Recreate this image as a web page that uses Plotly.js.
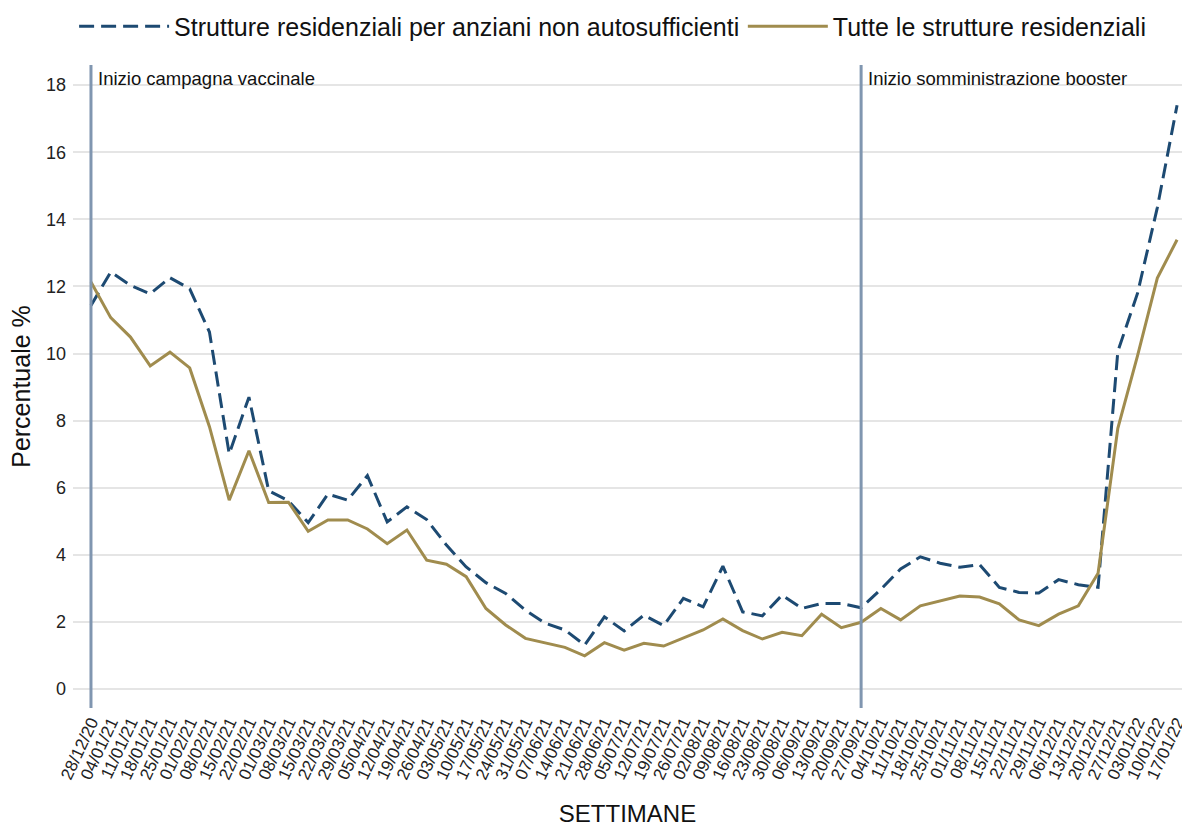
<!DOCTYPE html>
<html>
<head>
<meta charset="utf-8">
<script src="https://cdn.plot.ly/plotly-3.0.1.min.js"></script>
<style>html,body{margin:0;padding:0;background:#fff;}#chart{width:1182px;height:827px;}</style>
</head>
<body>
<div id="chart"></div>
<script>
const weeks = ["28/12/20","04/01/21","11/01/21","18/01/21","25/01/21","01/02/21","08/02/21","15/02/21","22/02/21","01/03/21","08/03/21","15/03/21","22/03/21","29/03/21","05/04/21","12/04/21","19/04/21","26/04/21","03/05/21","10/05/21","17/05/21","24/05/21","31/05/21","07/06/21","14/06/21","21/06/21","28/06/21","05/07/21","12/07/21","19/07/21","26/07/21","02/08/21","09/08/21","16/08/21","23/08/21","30/08/21","06/09/21","13/09/21","20/09/21","27/09/21","04/10/21","11/10/21","18/10/21","25/10/21","01/11/21","08/11/21","15/11/21","22/11/21","29/11/21","06/12/21","13/12/21","20/12/21","27/12/21","03/01/22","10/01/22","17/01/22"];

const rsaNonAuto = [11.43,12.43,12.03,11.78,12.26,11.93,10.64,7.01,8.70,5.91,5.61,4.96,5.81,5.63,6.36,4.98,5.43,5.05,4.29,3.64,3.17,2.85,2.35,1.96,1.76,1.31,2.15,1.73,2.20,1.89,2.70,2.45,3.66,2.30,2.18,2.80,2.40,2.55,2.55,2.42,2.97,3.58,3.94,3.75,3.63,3.71,3.03,2.88,2.86,3.26,3.11,3.03,10.06,11.80,14.35,17.40];

const tutteStrutture = [12.13,11.07,10.49,9.63,10.04,9.57,7.82,5.63,7.10,5.56,5.57,4.70,5.04,5.04,4.77,4.33,4.74,3.84,3.72,3.35,2.40,1.91,1.51,1.38,1.24,0.99,1.38,1.16,1.36,1.28,1.53,1.76,2.09,1.74,1.49,1.69,1.59,2.23,1.83,1.99,2.40,2.06,2.48,2.63,2.77,2.74,2.54,2.06,1.89,2.23,2.48,3.45,7.77,9.94,12.25,13.39];

const seriesNames = ["Strutture residenziali per anziani non autosufficienti", "Tutte le strutture residenziali"];
const yTicks = [0,2,4,6,8,10,12,14,16,18];
const events = [
  {week: "28/12/20", label: "Inizio campagna vaccinale"},
  {week: "27/09/21", label: "Inizio somministrazione booster"}
];

const FONT = "Liberation Sans, Arial, sans-serif";

const traces = [
  {x: weeks, y: rsaNonAuto, name: seriesNames[0], type: "scatter", mode: "lines", legend: "legend",
   line: {color: "#1d4a72", width: 3, dash: "15px,7px"}},
  {x: weeks, y: tutteStrutture, name: seriesNames[1], type: "scatter", mode: "lines", legend: "legend2",
   line: {color: "#a08c4e", width: 3}}
];

const shapes = events.map(e => ({
  type: "line", xref: "x", yref: "paper", x0: e.week, x1: e.week, y0: 0, y1: 1,
  line: {color: "#8096b0", width: 3}, layer: "above"
}));

const annotations = events.map(e => ({
  x: e.week, xref: "x", y: yTicks[yTicks.length - 1], yref: "y", yanchor: "bottom", xanchor: "left",
  xshift: 5, yshift: -6, text: e.label, showarrow: false,
  font: {family: FONT, size: 18.5, color: "#111"}
}));

const legendCommon = {
  orientation: "h", xanchor: "left", yanchor: "middle", y: 1.06,
  font: {family: FONT, size: 25, color: "#111"},
  bgcolor: "rgba(0,0,0,0)", borderwidth: 0
};

const layout = {
  width: 1182, height: 827,
  margin: {l: 73, r: 0, t: 65, b: 119},
  paper_bgcolor: "#fff", plot_bgcolor: "#fff",
  font: {family: FONT, color: "#222"},
  showlegend: true,
  legend: Object.assign({}, legendCommon, {x: 0.001, itemwidth: 90}),
  legend2: Object.assign({}, legendCommon, {x: 0.604, itemwidth: 80}),
  xaxis: {type: "category", range: [-0.91, 55.25], tickangle: -65,
          tickmode: "array", tickvals: weeks, ticktext: weeks,
          showgrid: false, zeroline: false, showline: false, ticks: "",
          tickfont: {family: FONT, size: 17, color: "#222"},
          title: {text: "SETTIMANE", font: {family: FONT, size: 24, color: "#111"}, standoff: 25}},
  yaxis: {range: [-0.566, 18.6], tickvals: yTicks,
          showgrid: true, gridcolor: "#e5e5e5", gridwidth: 2, zeroline: false, showline: false,
          ticks: "", ticklabelstandoff: 6,
          tickfont: {family: FONT, size: 18, color: "#222"},
          title: {text: "Percentuale %", font: {family: FONT, size: 25, color: "#111"}, standoff: 8}},
  shapes: shapes,
  annotations: annotations
};

Plotly.newPlot("chart", traces, layout, {displayModeBar: false, staticPlot: true});
</script>
</body>
</html>
